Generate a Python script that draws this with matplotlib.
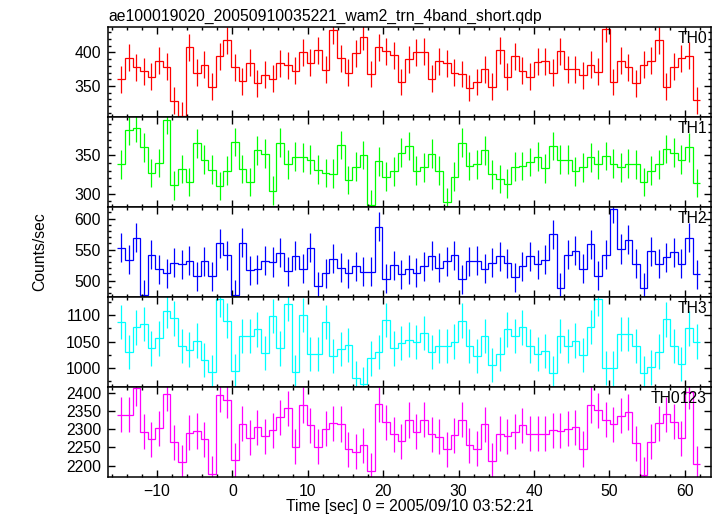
import numpy as np
import matplotlib
matplotlib.use('Agg')
from matplotlib import pyplot as plt
from matplotlib.ticker import MultipleLocator

plt.rcParams['font.family'] = ['Liberation Sans', 'DejaVu Sans']
plt.rcParams['font.size'] = 11.3

title = 'ae100019020_20050910035221_wam2_trn_4band_short.qdp'
xlabel = 'Time [sec] 0 = 2005/09/10 03:52:21'
ylabel = 'Counts/sec'

# light curve bins (sec from trigger)
time_start = -15.25
bin_width = 1.004
n_bins = 77

names = ['TH0', 'TH1', 'TH2', 'TH3', 'TH0123']
colors = ['#ff0000', '#00ff00', '#0000ff', '#00ffff', '#ff00ff']

th0 = [360, 392, 378, 372, 364, 388, 379, 328, 306, 408,
       370, 382, 349, 394, 418, 378, 357, 385, 354, 367,
       361, 384, 381, 373, 400, 385, 403, 374, 433, 391,
       370, 399, 423, 368, 408, 402, 396, 356, 390, 400,
       401, 361, 387, 384, 370, 368, 347, 356, 375, 349,
       403, 364, 394, 373, 364, 386, 387, 370, 402, 375,
       375, 366, 382, 371, 435, 356, 388, 378, 354, 382,
       388, 418, 349, 379, 391, 395, 329]
th1 = [338, 382, 385, 360, 327, 340, 396, 311, 332, 315,
       365, 344, 331, 310, 330, 367, 332, 315, 356, 352,
       304, 366, 338, 348, 347, 344, 331, 327, 326, 363,
       318, 335, 350, 286, 342, 322, 329, 353, 362, 330,
       334, 352, 330, 289, 322, 366, 336, 338, 356, 325,
       319, 313, 335, 336, 341, 348, 333, 362, 344, 344,
       329, 334, 347, 338, 349, 339, 334, 339, 338, 315,
       330, 338, 358, 353, 344, 360, 314]
th2 = [553, 534, 569, 477, 542, 518, 512, 529, 526, 532,
       507, 531, 507, 560, 541, 477, 561, 517, 518, 532,
       530, 545, 515, 540, 519, 553, 491, 512, 535, 521,
       512, 523, 514, 514, 587, 503, 525, 510, 518, 513,
       523, 540, 521, 531, 541, 502, 531, 532, 519, 529,
       539, 528, 505, 523, 539, 526, 534, 575, 488, 542,
       548, 519, 559, 508, 542, 616, 551, 566, 527, 488,
       547, 527, 538, 546, 527, 569, 510]
th3 = [1087, 1030, 1077, 1083, 1037, 1056, 1109, 1094, 1042, 1035,
       1052, 1015, 992, 1130, 1090, 994, 1061, 1060, 1073, 1029,
       1099, 1037, 1121, 992, 1100, 1027, 1027, 1087, 1022, 1036,
       1044, 980, 969, 1018, 1030, 1091, 1037, 1047, 1054, 1049,
       1067, 1030, 1041, 1041, 1050, 1090, 1041, 1022, 1061, 1006,
       1027, 1073, 1061, 1077, 1042, 1027, 1032, 991, 1061, 1041,
       1052, 1025, 1078, 1131, 1000, 999, 1064, 1064, 1041, 991,
       1001, 1031, 1092, 1042, 1008, 1075, 1050]
th0123 = [2339, 2339, 2412, 2293, 2272, 2302, 2397, 2264, 2210, 2290,
          2295, 2272, 2179, 2394, 2379, 2215, 2315, 2277, 2305, 2281,
          2297, 2332, 2357, 2252, 2366, 2311, 2252, 2301, 2316, 2314,
          2245, 2239, 2256, 2187, 2368, 2319, 2286, 2267, 2325, 2293,
          2326, 2286, 2279, 2245, 2283, 2326, 2256, 2247, 2313, 2213,
          2288, 2281, 2293, 2310, 2288, 2288, 2288, 2297, 2296, 2301,
          2305, 2246, 2366, 2352, 2326, 2313, 2337, 2347, 2261, 2176,
          2266, 2316, 2340, 2320, 2275, 2402, 2206]
series = [th0, th1, th2, th3, th0123]

# 1 sigma errors, roughly constant per band
errors = [20, 18.5, 23.5, 32.5, 48]

ylims = [(303.5, 437.5), (282.7, 399), (473.5, 618.7), (964, 1134.7), (2170, 2415.3)]
minor_steps = [10, 10, 10, 25, 50]

edges = time_start + bin_width * np.arange(n_bins + 1)
centers = 0.5 * (edges[:-1] + edges[1:])

W, H = 717, 516
fig = plt.figure(figsize=(W / 100, H / 100), dpi=100)
ax_left, ax_right = 108, 711.3
ax_top, panel_h = 27.3, 89.9

axes = []
for k, (name, vals, col, err) in enumerate(zip(names, series, colors, errors)):
    bottom = 1 - (ax_top + (k + 1) * panel_h) / H
    ax = fig.add_axes([ax_left / W, bottom, (ax_right - ax_left) / W, panel_h / H])
    ax.stairs(vals, edges, baseline=None, color=col, lw=0.9)
    ax.errorbar(centers, vals, yerr=err, fmt='none', ecolor=col, elinewidth=0.9)
    ax.set_xlim(-16.5, 63.5)
    ax.set_ylim(*ylims[k])
    ax.xaxis.set_major_locator(MultipleLocator(10))
    ax.xaxis.set_minor_locator(MultipleLocator(2))
    ax.yaxis.set_major_locator(MultipleLocator(50))
    ax.yaxis.set_minor_locator(MultipleLocator(minor_steps[k]))
    ax.ticklabel_format(axis='y', useOffset=False)
    ax.tick_params(which='both', direction='in', top=True, right=True, width=1, colors='black')
    ax.tick_params(which='major', length=5, pad=5)
    ax.tick_params(which='minor', length=2.5)
    for sp in ax.spines.values():
        sp.set_linewidth(1.1)
    if k < len(names) - 1:
        ax.tick_params(labelbottom=False)
    ax.text(0.993, 0.875, name, transform=ax.transAxes, ha='right', va='center')
    axes.append(ax)

axes[0].set_title(title, loc='left', pad=4.5, fontsize=11.3)
fig.text(ax_left / W + (ax_right - ax_left) / W / 2, 1 - 507 / H, xlabel, ha='center', va='center')
fig.text(40 / W, 1 - 252 / H, ylabel, rotation=90, ha='center', va='center')

fig.savefig('out.png', dpi=100)
